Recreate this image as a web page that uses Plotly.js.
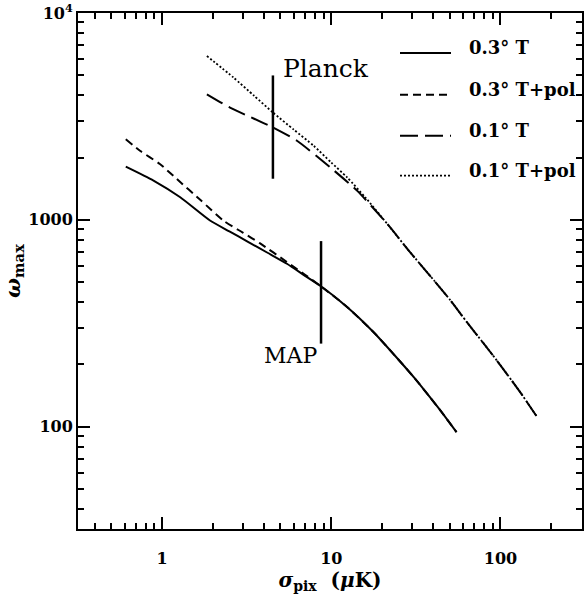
<!DOCTYPE html>
<html>
<head>
<meta charset="utf-8">
<script src="https://cdn.plot.ly/plotly-3.0.1.min.js"></script>
<style>html,body{margin:0;padding:0;background:#fff;}#chart{width:586px;height:599px;}</style>
</head>
<body>
<div id="chart"></div>
<script>
// ---- data ----
var seriesNames = ['0.3\u00b0 T', '0.3\u00b0 T+pol', '0.1\u00b0 T', '0.1\u00b0 T+pol'];

var x03T = [0.61, 0.89, 1.28, 1.92, 2.5, 3.2, 4.2, 5.47, 7.0, 8.69, 12.4, 17.8, 25.6, 31, 38.5, 46.2, 55];
var y03T = [1807, 1547, 1285, 992, 879, 785, 693, 613, 536, 477, 379, 286, 206, 172, 138, 114, 94];

var x03P = [0.61, 0.74, 0.97, 1.22, 1.7, 2.3, 3.0, 3.8, 5.47, 7.0, 8.69, 12.4, 17.8, 25.6, 31, 38.5, 46.2, 55];
var y03P = [2450, 2158, 1862, 1577, 1239, 992, 867, 769, 625, 542, 477, 379, 286, 206, 172, 138, 114, 94];

var x01T = [1.84, 2.52, 3.5, 4.52, 6.27, 9.86, 14.2, 21.4, 28.7, 40.4, 50.6, 63.5, 79.7, 100, 131, 165];
var y01T = [4046, 3487, 3080, 2796, 2411, 1793, 1384, 957, 710, 510, 408, 319, 252, 198, 146.5, 111];

var x01P = [1.84, 2.64, 3.5, 4.52, 6.0, 7.86, 10, 12.4, 16, 21.4, 28.7, 40.4, 50.6, 63.5, 79.7, 100, 131, 165];
var y01P = [6194, 4878, 3978, 3303, 2730, 2282, 1892, 1605, 1275, 957, 710, 510, 408, 319, 252, 198, 146.5, 111];

// experiment markers
var planckX = [4.52, 4.52], planckY = [1580, 4990];
var mapX = [8.7, 8.7], mapY = [252, 789];
var planckLabel = 'Planck', mapLabel = 'MAP';

var xTickVals = [1, 10, 100], xTickText = ['1', '10', '100'];
var yTickVals = [100, 1000, 10000], yTickText = ['100', '1000', '10<sup>4</sup>'];

// ---- styling ----
var dashes = ['solid', '8px,5px', '18px,7px', '2px,2px'];
var widths = [2, 2, 2, 1.8];
var xs = [x03T, x03P, x01T, x01P];
var ys = [y03T, y03P, y01T, y01P];

var traces = [];
for (var i = 0; i < 4; i++) {
  traces.push({x: xs[i], y: ys[i], type: 'scatter', mode: 'lines', name: seriesNames[i],
    line: {color: '#000', width: widths[i], dash: dashes[i], shape: 'spline', smoothing: 0.6},
    showlegend: false});
}
traces.push({x: planckX, y: planckY, mode: 'lines', line: {color: '#000', width: 2.5}, showlegend: false, hoverinfo: 'skip'});
traces.push({x: mapX, y: mapY, mode: 'lines', line: {color: '#000', width: 2.5}, showlegend: false, hoverinfo: 'skip'});

function minorVals(lo, hi) {
  var v = [];
  for (var d = lo; d <= hi; d++) {
    for (var k = 2; k <= 9; k++) v.push(k * Math.pow(10, d));
  }
  return v;
}

var serif = 'DejaVu Serif, serif';
var axisCommon = {
  type: 'log', showline: true, linewidth: 2, linecolor: '#000', mirror: 'ticks',
  ticks: 'inside', ticklen: 12, tickwidth: 2, tickcolor: '#000',
  showgrid: false, zeroline: false, tickmode: 'array',
  tickfont: {family: serif, size: 16, color: '#000', weight: 'bold'}
};

var xaxis = Object.assign({}, axisCommon, {
  range: [-0.497, 2.482], tickvals: xTickVals, ticktext: xTickText,
  ticklabelstandoff: 14,
  minor: {tickmode: 'array', tickvals: minorVals(-1, 2), ticks: 'inside', ticklen: 6, tickwidth: 2, tickcolor: '#000', showgrid: false},
  title: {text: '<i>σ</i><sub>pix</sub>  (<i>μ</i>K)', font: {family: serif, size: 20, color: '#000', weight: 'bold'}, standoff: 4}
});
var yaxis = Object.assign({}, axisCommon, {
  range: [1.505, 4.0], tickvals: yTickVals, ticktext: yTickText,
  ticklabelstandoff: 0,
  minor: {tickmode: 'array', tickvals: minorVals(1, 3), ticks: 'inside', ticklen: 6, tickwidth: 2, tickcolor: '#000', showgrid: false},
  title: {text: '<i>ω</i><sub>max</sub>', font: {family: serif, size: 21, color: '#000', weight: 'bold'}, standoff: 2}
});

// manual legend (paper coordinates)
var legX0 = (400 - 78) / 504, legX1 = (451 - 78) / 504, legTx = (467 - 78) / 504;
var legY = [53, 95, 136, 176];
var shapes = [], annotations = [];
for (var j = 0; j < 4; j++) {
  var py = 1 - (legY[j] - 13) / 517;
  shapes.push({type: 'line', xref: 'paper', yref: 'paper', x0: legX0, x1: legX1, y0: py, y1: py,
    line: {color: '#000', width: widths[j], dash: dashes[j]}});
  annotations.push({xref: 'paper', yref: 'paper', x: legTx, y: py + 5 / 517, xanchor: 'left', yanchor: 'middle',
    text: seriesNames[j], showarrow: false, font: {family: serif, size: 18, color: '#000', weight: 'bold'}});
}
annotations.push({x: Math.log10(5.05), y: Math.log10(5420), xref: 'x', yref: 'y', xanchor: 'left', yanchor: 'middle',
  text: planckLabel, showarrow: false, font: {family: serif, size: 25, color: '#000'}});
annotations.push({x: Math.log10(8.5), y: Math.log10(222), xref: 'x', yref: 'y', xanchor: 'right', yanchor: 'middle',
  text: mapLabel, showarrow: false, font: {family: serif, size: 22, color: '#000'}});

var layout = {
  width: 586, height: 599,
  margin: {l: 78, r: 4, t: 13, b: 70},
  paper_bgcolor: '#fff', plot_bgcolor: '#fff',
  xaxis: xaxis, yaxis: yaxis,
  shapes: shapes, annotations: annotations,
  showlegend: false
};

Plotly.newPlot('chart', traces, layout, {displayModeBar: false, staticPlot: true});
</script>
</body>
</html>
